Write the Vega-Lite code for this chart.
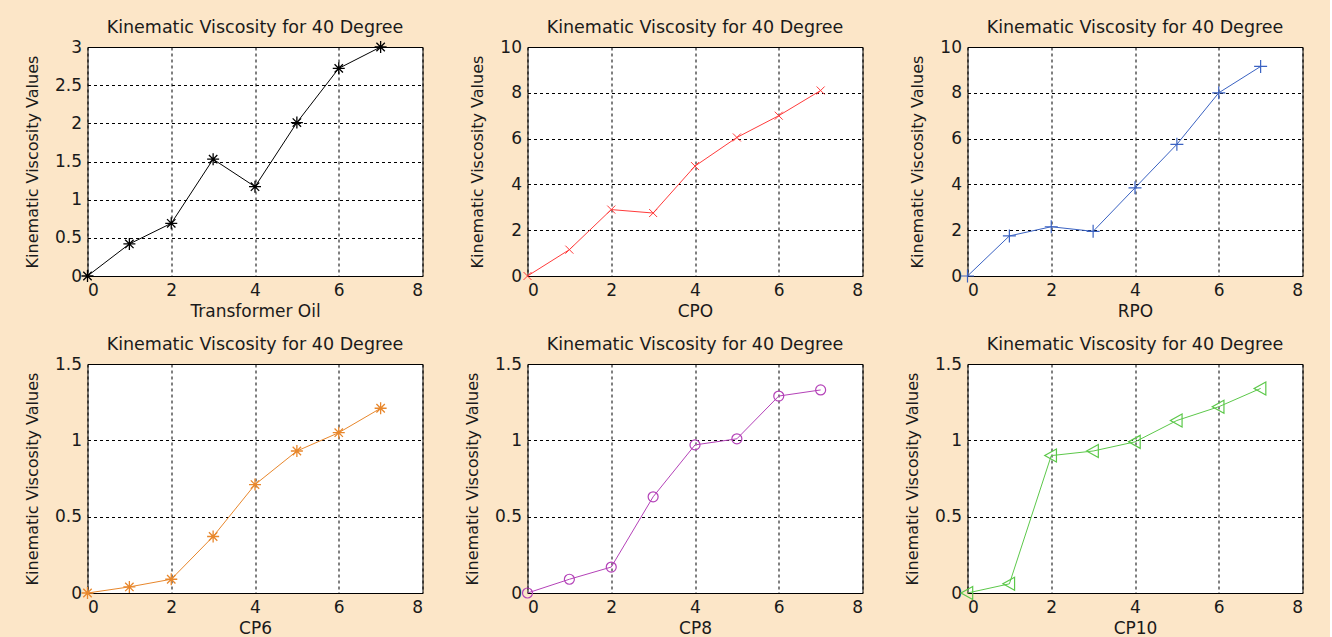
{
  "$schema": "https://vega.github.io/schema/vega-lite/v6.json",
  "background": "#fce6c8",
  "padding": {"left": 23.5, "top": 18, "right": 26, "bottom": 0},
  "autosize": {"type": "pad"},
  "datasets": {
    "to": [{"x":0,"y":0},{"x":1,"y":0.42},{"x":2,"y":0.69},{"x":3,"y":1.53},{"x":4,"y":1.17},{"x":5,"y":2.01},{"x":6,"y":2.72},{"x":7,"y":3.0}],
    "cpo": [{"x":0,"y":0},{"x":1,"y":1.15},{"x":2,"y":2.9},{"x":3,"y":2.75},{"x":4,"y":4.8},{"x":5,"y":6.05},{"x":6,"y":7.0},{"x":7,"y":8.1}],
    "rpo": [{"x":0,"y":0},{"x":1,"y":1.75},{"x":2,"y":2.15},{"x":3,"y":1.95},{"x":4,"y":3.85},{"x":5,"y":5.75},{"x":6,"y":8.0},{"x":7,"y":9.15}],
    "cp6": [{"x":0,"y":0},{"x":1,"y":0.04},{"x":2,"y":0.09},{"x":3,"y":0.37},{"x":4,"y":0.71},{"x":5,"y":0.93},{"x":6,"y":1.05},{"x":7,"y":1.21}],
    "cp8": [{"x":0,"y":0},{"x":1,"y":0.09},{"x":2,"y":0.17},{"x":3,"y":0.63},{"x":4,"y":0.97},{"x":5,"y":1.01},{"x":6,"y":1.29},{"x":7,"y":1.33}],
    "cp10": [{"x":0,"y":0},{"x":1,"y":0.06},{"x":2,"y":0.90},{"x":3,"y":0.93},{"x":4,"y":0.99},{"x":5,"y":1.13},{"x":6,"y":1.22},{"x":7,"y":1.34}]
  },
  "columns": 3,
  "spacing": {"row": 88, "column": 105},
  "bounds": "flush",
  "config": {
    "font": "DejaVu Sans",
    "view": {"stroke": "#000000", "strokeWidth": 1, "fill": "#ffffff"},
    "title": {"fontSize": 17.5, "fontWeight": "normal", "color": "#1a1a1a", "offset": 2, "font": "DejaVu Sans"},
    "axis": {
      "domain": false, "ticks": false,
      "grid": true, "gridColor": "#000000", "gridOpacity": 1, "gridDash": [3, 3], "gridWidth": 1,
      "labelFont": "DejaVu Sans", "labelFontSize": 17, "labelColor": "#1a1a1a",
      "titleFont": "DejaVu Sans", "titleFontWeight": "normal", "titleColor": "#1a1a1a",
      "labelPadding": 5
    },
    "axisX": {"titleFontSize": 17, "titlePadding": 5, "labelPadding": 6},
    "axisY": {"titleFontSize": 16, "titlePadding": 14, "labelPadding": 6}
  },
  "concat": [
    {
      "width": 335, "height": 229,
      "title": "Kinematic Viscosity for 40 Degree",
      "data": {"name": "to"},
      "encoding": {
        "x": {"field": "x", "type": "quantitative", "scale": {"domain": [0, 8], "nice": false}, "axis": {"values": [0,2,4,6,8], "title": "Transformer Oil"}},
        "y": {"field": "y", "type": "quantitative", "scale": {"domain": [0, 3], "nice": false}, "axis": {"values": [0,0.5,1,1.5,2,2.5,3], "format": "~r", "title": "Kinematic Viscosity Values"}}
      },
      "layer": [
        {"mark": {"type": "line", "color": "#000000", "strokeWidth": 1}},
        {"mark": {"type": "point", "shape": "M-1,0L1,0M0,-1L0,1M-0.7,-0.7L0.7,0.7M-0.7,0.7L0.7,-0.7", "filled": false, "color": "#000000", "size": 144, "strokeWidth": 1.3, "opacity": 1}}
      ]
    },
    {
      "width": 335, "height": 229,
      "title": "Kinematic Viscosity for 40 Degree",
      "data": {"name": "cpo"},
      "encoding": {
        "x": {"field": "x", "type": "quantitative", "scale": {"domain": [0, 8], "nice": false}, "axis": {"values": [0,2,4,6,8], "title": "CPO"}},
        "y": {"field": "y", "type": "quantitative", "scale": {"domain": [0, 10], "nice": false}, "axis": {"values": [0,2,4,6,8,10], "format": "~r", "title": "Kinematic Viscosity Values"}}
      },
      "layer": [
        {"mark": {"type": "line", "color": "#ff3b3b", "strokeWidth": 1}},
        {"mark": {"type": "point", "shape": "M-1,-1L1,1M-1,1L1,-1", "filled": false, "color": "#ff3b3b", "size": 64, "strokeWidth": 1, "opacity": 1}}
      ]
    },
    {
      "width": 335, "height": 229,
      "title": "Kinematic Viscosity for 40 Degree",
      "data": {"name": "rpo"},
      "encoding": {
        "x": {"field": "x", "type": "quantitative", "scale": {"domain": [0, 8], "nice": false}, "axis": {"values": [0,2,4,6,8], "title": "RPO"}},
        "y": {"field": "y", "type": "quantitative", "scale": {"domain": [0, 10], "nice": false}, "axis": {"values": [0,2,4,6,8,10], "format": "~r", "title": "Kinematic Viscosity Values"}}
      },
      "layer": [
        {"mark": {"type": "line", "color": "#3a62c2", "strokeWidth": 1}},
        {"mark": {"type": "point", "shape": "M-1,0L1,0M0,-1L0,1", "filled": false, "color": "#3a62c2", "size": 169, "strokeWidth": 1.2, "opacity": 1}}
      ]
    },
    {
      "width": 335, "height": 229,
      "title": "Kinematic Viscosity for 40 Degree",
      "data": {"name": "cp6"},
      "encoding": {
        "x": {"field": "x", "type": "quantitative", "scale": {"domain": [0, 8], "nice": false}, "axis": {"values": [0,2,4,6,8], "title": "CP6"}},
        "y": {"field": "y", "type": "quantitative", "scale": {"domain": [0, 1.5], "nice": false}, "axis": {"values": [0,0.5,1,1.5], "format": "~r", "title": "Kinematic Viscosity Values"}}
      },
      "layer": [
        {"mark": {"type": "line", "color": "#e8872c", "strokeWidth": 1}},
        {"mark": {"type": "point", "shape": "M-1,0L1,0M0,-1L0,1M-0.7,-0.7L0.7,0.7M-0.7,0.7L0.7,-0.7", "filled": false, "color": "#e8872c", "size": 144, "strokeWidth": 1.3, "opacity": 1}}
      ]
    },
    {
      "width": 335, "height": 229,
      "title": "Kinematic Viscosity for 40 Degree",
      "data": {"name": "cp8"},
      "encoding": {
        "x": {"field": "x", "type": "quantitative", "scale": {"domain": [0, 8], "nice": false}, "axis": {"values": [0,2,4,6,8], "title": "CP8"}},
        "y": {"field": "y", "type": "quantitative", "scale": {"domain": [0, 1.5], "nice": false}, "axis": {"values": [0,0.5,1,1.5], "format": "~r", "title": "Kinematic Viscosity Values"}}
      },
      "layer": [
        {"mark": {"type": "line", "color": "#b442b8", "strokeWidth": 1}},
        {"mark": {"type": "point", "shape": "circle", "filled": false, "color": "#b442b8", "size": 100, "strokeWidth": 1.2, "opacity": 1}}
      ]
    },
    {
      "width": 335, "height": 229,
      "title": "Kinematic Viscosity for 40 Degree",
      "data": {"name": "cp10"},
      "encoding": {
        "x": {"field": "x", "type": "quantitative", "scale": {"domain": [0, 8], "nice": false}, "axis": {"values": [0,2,4,6,8], "title": "CP10"}},
        "y": {"field": "y", "type": "quantitative", "scale": {"domain": [0, 1.5], "nice": false}, "axis": {"values": [0,0.5,1,1.5], "format": "~r", "title": "Kinematic Viscosity Values"}}
      },
      "layer": [
        {"mark": {"type": "line", "color": "#5cc84a", "strokeWidth": 1}},
        {"mark": {"type": "point", "shape": "M0.8,-1L-1,0L0.8,1Z", "filled": false, "color": "#5cc84a", "size": 169, "strokeWidth": 1.2, "opacity": 1}}
      ]
    }
  ]
}
